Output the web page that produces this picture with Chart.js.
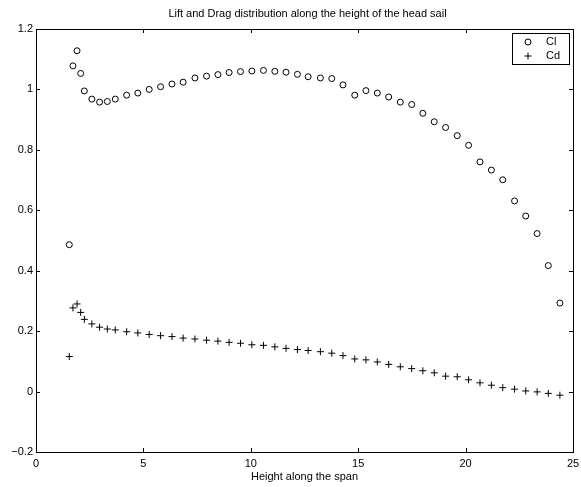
<!DOCTYPE html>
<html lang="en">
<head>
<meta charset="UTF-8">
<title>Lift and Drag distribution</title>
<style>
  body { margin: 0; background: #fff; }
</style>
</head>
<body>
<canvas id="grafico" width="581" height="487"></canvas>

<script src="https://cdn.jsdelivr.net/npm/chart.js"></script>
<script>
// heights along the span and the coefficients at each station
const alturas = [1.55, 1.72, 1.91, 2.08, 2.25, 2.60, 2.96, 3.32, 3.69, 4.22,
  4.74, 5.27, 5.80, 6.33, 6.85, 7.40, 7.94, 8.47, 8.99, 9.52,
  10.05, 10.59, 11.12, 11.64, 12.17, 12.67, 13.24, 13.77, 14.29, 14.84,
  15.36, 15.89, 16.42, 16.96, 17.49, 18.01, 18.54, 19.07, 19.61, 20.14,
  20.67, 21.20, 21.73, 22.28, 22.80, 23.33, 23.85, 24.39]

const cl = [0.486, 1.078, 1.128, 1.053, 0.995, 0.968, 0.958, 0.960, 0.968, 0.981,
  0.988, 1.000, 1.009, 1.018, 1.024, 1.038, 1.044, 1.049, 1.056, 1.059,
  1.061, 1.063, 1.060, 1.057, 1.050, 1.042, 1.038, 1.036, 1.015, 0.981,
  0.996, 0.988, 0.975, 0.958, 0.950, 0.921, 0.893, 0.874, 0.847, 0.815,
  0.760, 0.733, 0.701, 0.631, 0.581, 0.523, 0.417, 0.293]

const cd = [0.116, 0.277, 0.290, 0.262, 0.239, 0.224, 0.213, 0.207, 0.204, 0.198,
  0.194, 0.189, 0.185, 0.182, 0.177, 0.174, 0.170, 0.167, 0.163, 0.160,
  0.155, 0.153, 0.148, 0.143, 0.139, 0.136, 0.132, 0.127, 0.119, 0.108,
  0.105, 0.098, 0.090, 0.082, 0.076, 0.069, 0.062, 0.051, 0.049, 0.039,
  0.029, 0.021, 0.013, 0.008, 0.002, -0.001, -0.006, -0.012]

const serieNomes = ['Cl', 'Cd']
const titulo = 'Lift and Drag distribution along the height of the head sail'
const tituloX = 'Height along the span'
const xTicks = [0, 5, 10, 15, 20, 25]
const yTicks = [-0.2, 0, 0.2, 0.4, 0.6, 0.8, 1, 1.2]

const fonte = 'Liberation Sans, Arial, Helvetica, sans-serif'

const pontos = (ys) => alturas.map((x, i) => ({ x: x, y: ys[i] }))

// caixa, marcas internas, titulo, rotulo x e legenda (estilo matlab)
const moldura = {
  id: 'moldura',
  afterDraw(chart) {
    const c = chart.ctx
    const a = chart.chartArea
    const sx = chart.scales.x
    const sy = chart.scales.y
    const tam = 4
    c.save()
    c.strokeStyle = '#000'
    c.lineWidth = 1
    c.beginPath()
    xTicks.forEach(v => {
      const px = Math.round(sx.getPixelForValue(v)) + 0.5
      c.moveTo(px, a.bottom); c.lineTo(px, a.bottom - tam)
      c.moveTo(px, a.top); c.lineTo(px, a.top + tam)
    })
    yTicks.forEach(v => {
      const py = Math.round(sy.getPixelForValue(v)) + 0.5
      c.moveTo(a.left, py); c.lineTo(a.left + tam, py)
      c.moveTo(a.right, py); c.lineTo(a.right - tam, py)
    })
    c.stroke()
    c.strokeRect(Math.round(a.left) + 0.5, Math.round(a.top) + 0.5,
      Math.round(a.right - a.left), Math.round(a.bottom - a.top))

    c.fillStyle = '#000'
    c.font = '11px ' + fonte
    c.textAlign = 'center'
    c.textBaseline = 'middle'
    const meio = (a.left + a.right) / 2
    c.fillText(titulo, meio + 3, 14)
    c.fillText(tituloX, meio, 477)

    // legenda
    const lx = 512, ly = 33, lw = 57, lh = 31
    c.fillStyle = '#fff'
    c.fillRect(lx, ly, lw, lh)
    c.strokeRect(lx + 0.5, ly + 0.5, lw, lh)
    c.fillStyle = '#000'
    c.beginPath()
    c.arc(528, 42, 3, 0, Math.PI * 2)
    c.stroke()
    c.beginPath()
    c.moveTo(524.5, 56); c.lineTo(531.5, 56)
    c.moveTo(528, 52.5); c.lineTo(528, 59.5)
    c.stroke()
    c.textAlign = 'left'
    c.fillText(serieNomes[0], 546, 42)
    c.fillText(serieNomes[1], 546, 56)
    c.restore()
  }
}

const ctx = document.getElementById('grafico')

const grafico = new Chart(ctx, {
  type: 'scatter',
  data: {
    datasets: [{
      label: serieNomes[0],
      data: pontos(cl),
      pointStyle: 'circle',
      pointRadius: 3,
      pointBorderWidth: 1,
      borderColor: '#000',
      backgroundColor: 'rgba(0,0,0,0)'
    }, {
      label: serieNomes[1],
      data: pontos(cd),
      pointStyle: 'cross',
      pointRadius: 3.5,
      pointBorderWidth: 1,
      borderColor: '#000',
      backgroundColor: '#000'
    }]
  },
  options: {
    responsive: false,
    animation: false,
    devicePixelRatio: 1,
    layout: { padding: { top: 29, right: 8, left: 0, bottom: 0 } },
    plugins: {
      legend: { display: false },
      title: { display: false },
      tooltip: { enabled: false }
    },
    scales: {
      x: {
        type: 'linear',
        min: 0,
        max: 25,
        afterFit: (s) => { s.height = 35; s.paddingLeft = 0; s.paddingRight = 0 },
        afterBuildTicks: (s) => { s.ticks = xTicks.map(v => ({ value: v })) },
        grid: { display: false, drawTicks: false },
        border: { display: false },
        ticks: {
          color: '#000',
          padding: 5,
          maxRotation: 0,
          font: { family: fonte, size: 11 },
          callback: (v) => String(v)
        }
      },
      y: {
        type: 'linear',
        min: -0.2,
        max: 1.2,
        afterFit: (s) => { s.width = 36; s.paddingTop = 0; s.paddingBottom = 0 },
        afterBuildTicks: (s) => { s.ticks = yTicks.map(v => ({ value: v })) },
        grid: { display: false, drawTicks: false },
        border: { display: false },
        ticks: {
          color: '#000',
          padding: 3,
          font: { family: fonte, size: 11 },
          callback: (v) => {
            const r = Math.round(v * 10) / 10
            return r < 0 ? '\u2212' + String(-r) : String(r)
          }
        }
      }
    }
  },
  plugins: [moldura]
})
</script>
</body>
</html>
